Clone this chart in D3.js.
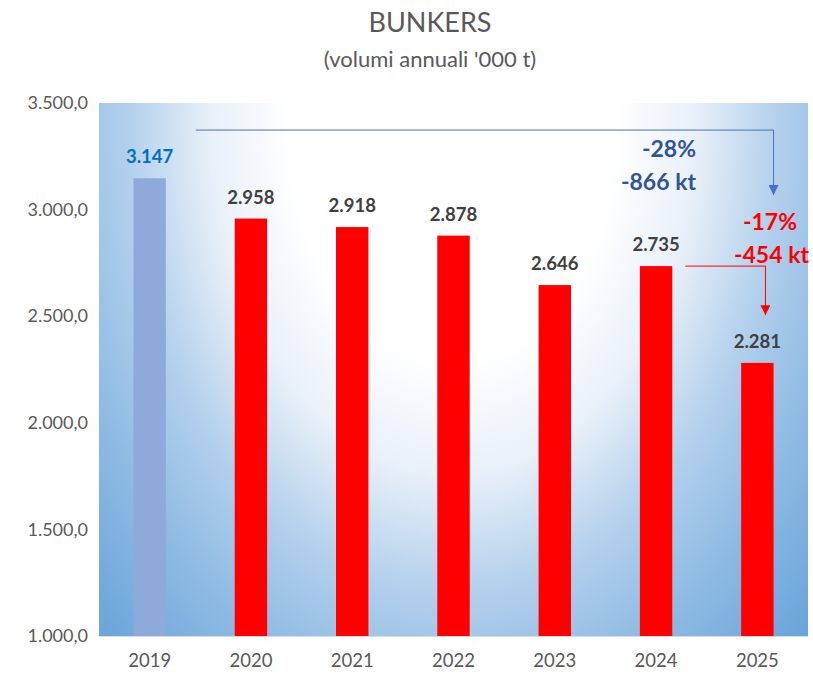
<!DOCTYPE html>
<html>
<head>
<meta charset="utf-8">
<script src="https://cdn.jsdelivr.net/npm/d3@7"></script>
<style>
body { margin: 0; background: #fff; }
text { font-family: Lato, "Open Sans", sans-serif; }
</style>
</head>
<body>
<svg id="chart" width="813" height="675"></svg>
<script>
// data
var years = ['2019', '2020', '2021', '2022', '2023', '2024', '2025'];
var volumes = [3147, 2958, 2918, 2878, 2646, 2735, 2281];
var yTicks = [1000, 1500, 2000, 2500, 3000, 3500];
var title = 'BUNKERS',
subtitle = "(volumi annuali '000 t)";
var totalDelta = ['-28%', '-866 kt'],
lastDelta = ['-17%', '-454 kt'];

var svg = d3.select('#chart');
var margin = {top: 103, right: 5, bottom: 39, left: 99};
var width = 813, height = 675;

var x = d3.scaleBand()
	.domain(years)
	.range([margin.left, width - margin.right])
	.paddingInner(0.68)
	.paddingOuter(0.34);

var y = d3.scaleLinear()
	.domain([1000, 3500])
	.range([height - margin.bottom, margin.top]);

var fmt = d3.formatLocale({decimal: ',', thousands: '.', grouping: [3], currency: ['', '']});
var tickFmt = fmt.format(',.1f'),
labelFmt = fmt.format(',');

// background gradient (white at top centre, blue towards the corners)
var defs = svg.append('defs');
var grad = defs.append('radialGradient')
	.attr('id', 'bg')
	.attr('gradientUnits', 'userSpaceOnUse')
	.attr('cx', 0).attr('cy', 0).attr('r', 1)
	.attr('gradientTransform', 'translate(453,125) scale(540,780)');
[[0, '#ffffff'], [0.3, '#ffffff'], [0.45, '#e8f0f9'], [0.6, '#b3d0ec'],
 [0.75, '#8dbae3'], [1, '#5b9bd5']].forEach(function(s) {
	grad.append('stop').attr('offset', s[0]).attr('stop-color', s[1]);
});

var markers = [['arrBlue', '#4472c4'], ['arrRed', '#ff0000']];
markers.forEach(function(m) {
	defs.append('marker')
		.attr('id', m[0])
		.attr('viewBox', '0 0 10 10')
		.attr('refX', 10).attr('refY', 5)
		.attr('markerWidth', 10).attr('markerHeight', 10)
		.attr('markerUnits', 'userSpaceOnUse')
		.attr('orient', 'auto')
		.append('path').attr('d', 'M0,0 L10,5 L0,10 z').attr('fill', m[1]);
});

svg.append('rect')
	.attr('x', margin.left)
	.attr('y', margin.top)
	.attr('width', width - margin.left - margin.right)
	.attr('height', height - margin.top - margin.bottom)
	.attr('fill', 'url(#bg)');

// titles
svg.append('text')
	.attr('x', 430).attr('y', 32)
	.attr('text-anchor', 'middle')
	.attr('font-size', 27)
	.attr('fill', '#595959')
	.text(title);
svg.append('text')
	.attr('x', 430).attr('y', 67)
	.attr('text-anchor', 'middle')
	.attr('font-size', 22)
	.attr('fill', '#595959')
	.text(subtitle);

// axes
var yAxis = svg.append('g')
	.attr('transform', 'translate(' + (margin.left - 8) + ',0)')
	.call(d3.axisLeft(y).tickValues(yTicks).tickFormat(tickFmt).tickSize(0));
yAxis.select('.domain').remove();
yAxis.selectAll('text').attr('font-size', 18).attr('fill', '#595959');

var xAxis = svg.append('g')
	.attr('transform', 'translate(0,' + (height - margin.bottom) + ')')
	.call(d3.axisBottom(x).tickSize(0).tickPadding(18));
xAxis.select('.domain').attr('stroke', '#d9d9d9');
xAxis.selectAll('text').attr('font-size', 18.5).attr('fill', '#595959');

// bars
var rows = years.map(function(d, i) { return {year: d, v: volumes[i]}; });
svg.append('g').selectAll('rect')
	.data(rows)
	.enter().append('rect')
	.attr('x', function(d) { return x(d.year); })
	.attr('y', function(d) { return y(d.v); })
	.attr('width', x.bandwidth())
	.attr('height', function(d) { return y(1000) - y(d.v); })
	.attr('fill', function(d, i) { return i == 0 ? '#8eaadb' : '#ff0000'; });

svg.append('g').selectAll('text')
	.data(rows)
	.enter().append('text')
	.attr('x', function(d) { return x(d.year) + x.bandwidth() / 2; })
	.attr('y', function(d) { return y(d.v) - 15; })
	.attr('text-anchor', 'middle')
	.attr('font-size', 18.5)
	.attr('font-weight', 'bold')
	.attr('fill', function(d, i) { return i == 0 ? '#0070c0' : '#404040'; })
	.text(function(d) { return labelFmt(d.v); });

// blue arrow 2019 -> 2025
var bx0 = x('2019') + x.bandwidth() + 30,
bx1 = x('2025') + x.bandwidth(),
by0 = y(3373),
by1 = y(3068);
svg.append('path')
	.attr('d', 'M' + bx0 + ',' + by0 + 'H' + bx1 + 'V' + by1)
	.attr('fill', 'none')
	.attr('stroke', '#4472c4')
	.attr('stroke-width', 1)
	.attr('marker-end', 'url(#arrBlue)');

// red arrow 2024 -> 2025
var rx0 = x('2024') + x.bandwidth() + 13,
rx1 = x('2025') + x.bandwidth() * 0.75,
ry0 = y(volumes[5]),
ry1 = y(2505);
svg.append('path')
	.attr('d', 'M' + rx0 + ',' + ry0 + 'H' + rx1 + 'V' + ry1)
	.attr('fill', 'none')
	.attr('stroke', '#ff0000')
	.attr('stroke-width', 1)
	.attr('marker-end', 'url(#arrRed)');

// annotations
var notes = [
	[totalDelta[0], 696, 157, '#2f5597'],
	[totalDelta[1], 696, 190, '#2f5597'],
	[lastDelta[0], 797, 230, '#ff0000'],
	[lastDelta[1], 809, 263, '#ff0000']
];
svg.append('g').selectAll('text')
	.data(notes)
	.enter().append('text')
	.attr('x', function(d) { return d[1]; })
	.attr('y', function(d) { return d[2]; })
	.attr('text-anchor', 'end')
	.attr('font-size', 23)
	.attr('font-weight', 'bold')
	.attr('fill', function(d) { return d[3]; })
	.text(function(d) { return d[0]; });
</script>
</body>
</html>
